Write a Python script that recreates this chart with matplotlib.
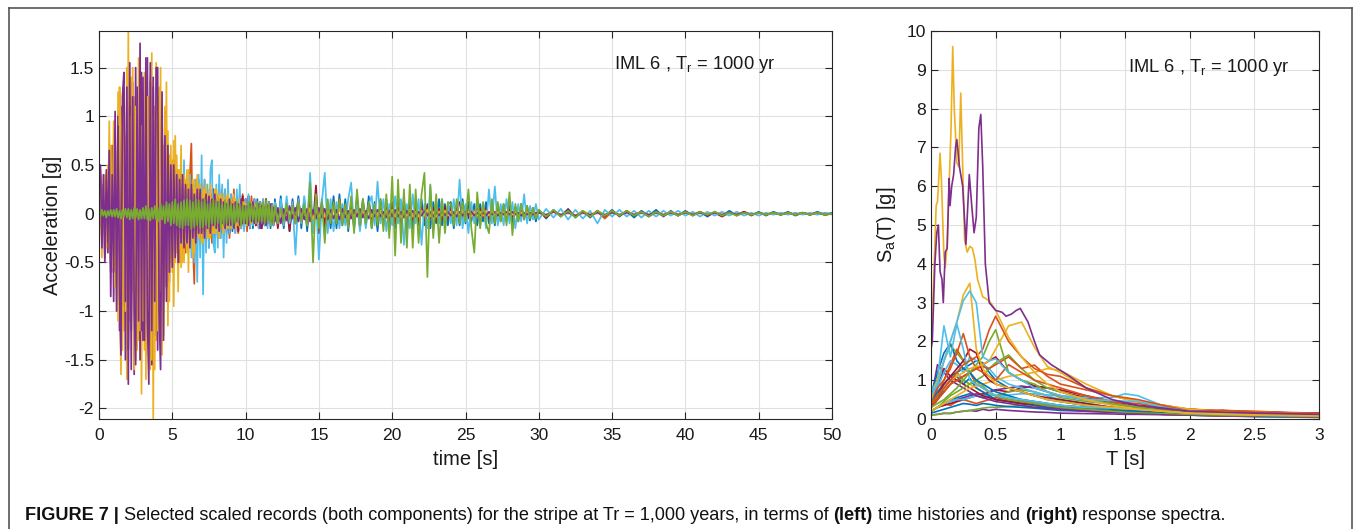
import numpy as np
import matplotlib
matplotlib.use("Agg")
import matplotlib.pyplot as plt
from matplotlib import font_manager as fm
from matplotlib.lines import Line2D

# ---------------- data: time histories (acceleration in g) ----------------
# time grid: 0-12 s every 0.1 s, 12-30 s every 0.2 s, 30-50 s every 0.5 s
t_seg_a = np.arange(120) * 0.1
t_seg_b = 12 + np.arange(90) * 0.2
t_seg_c = 30 + np.arange(41) * 0.5
time = np.concatenate([t_seg_a, t_seg_b, t_seg_c])

acc_yellow = [
    0.02, 0.45, -0.30, 0.20, -0.25, 0.35, -0.40, 0.95, -0.50, 0.30,
    -0.60, 0.85, -0.90, 1.25, -0.70, -1.65, 1.05, -1.20, 0.80, -1.70,
    1.88, -1.10, 1.40, -0.80, 1.20, -1.50, 0.90, -1.30, 1.10, -1.85,
    1.00, -1.40, 1.30, -0.90, 1.20, -1.60, 1.65, -2.10, 1.10, -1.30,
    0.90, -1.00, 1.50, -1.45, 0.70, -0.60, 1.35, -1.15, 0.60, -0.50,
    0.55, -0.95, 0.80, -0.40, 0.45, -0.35, 0.70, -0.50, 0.40, -0.30,
    0.45, -0.60, 0.30, -0.25, 0.35, -0.40, 0.25, -0.20, 0.30, -0.25,
    0.20, -0.30, 0.25, -0.15, 0.20, -0.25, 0.30, -0.20, 0.15, -0.20,
    0.25, -0.15, 0.20, -0.10, 0.15, -0.20, 0.10, -0.15, 0.20, -0.10,
    0.15, -0.10, 0.20, -0.15, 0.10, -0.12, 0.15, -0.10, 0.12, -0.08,
    0.10, -0.12, 0.08, -0.10, 0.12, -0.06, 0.10, -0.08, 0.06, -0.10,
    0.08, -0.06, 0.10, -0.08, 0.05, -0.07, 0.09, -0.05, 0.06, -0.08,
    0.06, -0.08, 0.05, -0.06, 0.07, -0.05, 0.04, -0.06, 0.05, -0.04,
    0.05, -0.04, 0.06, -0.05, 0.03, -0.04, 0.05, -0.03, 0.04, -0.05,
    0.04, -0.03, 0.05, -0.04, 0.03, -0.05, 0.04, -0.03, 0.02, -0.04,
    0.03, -0.04, 0.05, -0.03, 0.04, -0.02, 0.03, -0.04, 0.03, -0.02,
    0.04, -0.03, 0.02, -0.04, 0.03, -0.02, 0.04, -0.03, 0.02, -0.03,
    0.03, -0.02, 0.04, -0.03, 0.02, -0.03, 0.02, -0.02, 0.03, -0.02,
    0.02, -0.03, 0.02, -0.02, 0.03, -0.02, 0.02, -0.03, 0.02, -0.02,
    0.02, -0.02, 0.03, -0.02, 0.02, -0.02, 0.02, -0.01, 0.02, -0.02,
    0.02, -0.01, 0.02, -0.02, 0.01, -0.02, 0.02, -0.01, 0.01, -0.02,
    0.01, -0.02, 0.02, -0.01, 0.02, -0.02, 0.03, -0.01, 0.02, -0.01,
    0.01, -0.01, 0.02, -0.01, 0.01, -0.01, 0.01, -0.01, 0.02, -0.01,
    0.01, -0.01, 0.01, -0.01, 0.01, -0.01, 0.01, -0.01, 0.01, -0.01,
    0.01, -0.01, 0.01, -0.01, 0.01, -0.01, 0.01, -0.01, 0.01, -0.01, 0.00]

# second component of the strongest records (0-12 s only, 0.1 s step)
acc_yellow_b = [
    -0.25, 0.30, -0.45, 0.25, 0.40, -0.35, 0.50, -0.30, 0.70, -0.55,
    0.95, -0.75, 0.60, -1.10, 1.30, 0.90, -1.40, 1.20, -1.00, 1.50,
    -1.30, 1.00, -0.90, 1.50, -1.60, 1.10, -1.40, 1.60, -1.20, 0.90,
    -1.10, 1.45, -1.70, 1.20, -1.00, 1.40, -1.50, 1.00, -1.60, 1.55,
    -1.20, 1.30, -0.80, 0.95, -1.25, 1.10, -0.70, 0.85, -0.90, 0.70,
    -0.60, 0.75, -0.50, 0.60, -0.80, 0.45, -0.55, 0.40, -0.50, 0.35,
    -0.40, 0.45, -0.35, 0.30, -0.45, 0.35, -0.30, 0.40, -0.25, 0.30,
    -0.30, 0.25, -0.20, 0.30, -0.25, 0.20, -0.25, 0.15, -0.20, 0.25,
    -0.20, 0.15, -0.25, 0.20, -0.15, 0.20, -0.12, 0.18, -0.15, 0.12,
    -0.15, 0.12, -0.10, 0.15, -0.12, 0.10, -0.14, 0.10, -0.08, 0.12,
    -0.10, 0.08, -0.12, 0.06, -0.10, 0.08, -0.05, 0.08, -0.06, 0.05,
    -0.06, 0.05, -0.08, 0.04, -0.05, 0.06, -0.04, 0.05, -0.03, 0.02]

acc_purple = [
    0.30, 0.50, -0.35, 0.40, -0.45, 0.45, -0.30, 0.65, -0.85, 0.40,
    -0.60, 1.05, -1.00, 0.90, -0.80, -1.45, 1.20, 1.45, -0.90, 1.30,
    -1.75, 1.10, -1.60, 1.20, -1.00, -1.55, 1.30, -1.10, 1.75, -1.20,
    1.40, -1.30, 1.60, -1.10, -1.75, 1.55, -1.20, 1.30, -0.90, 1.50,
    1.50, -1.00, -1.60, 1.00, -1.30, 0.80, -0.90, 0.70, -0.60, 0.50,
    -0.55, 0.50, -0.45, 0.40, -0.50, 0.35, -0.30, 0.40, -0.35, 0.30,
    -0.30, 0.25, -0.35, 0.30, -0.25, 0.20, -0.30, 0.25, -0.20, 0.25,
    -0.20, 0.15, -0.25, 0.20, -0.15, 0.18, -0.20, 0.15, -0.12, 0.20,
    -0.15, 0.12, -0.18, 0.15, -0.10, 0.12, -0.15, 0.10, -0.12, 0.15,
    -0.12, 0.10, -0.15, 0.12, -0.08, 0.10, -0.12, 0.15, -0.10, 0.08,
    -0.10, 0.08, -0.12, 0.10, -0.08, 0.12, -0.10, 0.06, -0.08, 0.10,
    -0.15, 0.08, -0.10, 0.06, -0.12, 0.08, -0.06, 0.10, -0.08, 0.06,
    -0.08, 0.06, -0.10, 0.05, -0.07, 0.08, -0.05, 0.06, -0.08, 0.05,
    -0.06, 0.05, -0.08, 0.04, -0.05, 0.06, -0.04, 0.05, -0.06, 0.04,
    -0.05, 0.04, -0.06, 0.05, -0.04, 0.03, -0.05, 0.04, -0.03, 0.05,
    -0.04, 0.03, -0.05, 0.04, -0.03, 0.04, -0.03, 0.02, -0.04, 0.03,
    -0.03, 0.04, -0.03, 0.02, -0.04, 0.03, -0.02, 0.03, -0.03, 0.02,
    -0.02, 0.03, -0.02, 0.02, -0.03, 0.02, -0.02, 0.03, -0.02, 0.02,
    -0.02, 0.02, -0.03, 0.02, -0.02, 0.02, -0.01, 0.02, -0.02, 0.01,
    -0.02, 0.01, -0.02, 0.02, -0.01, 0.02, -0.02, 0.01, -0.01, 0.02,
    -0.01, 0.02, -0.01, 0.01, -0.02, 0.01, -0.01, 0.01, -0.01, 0.01,
    0.01, -0.01, 0.02, -0.01, 0.01, -0.02, 0.01, -0.01, 0.01, -0.01,
    0.01, -0.01, 0.01, -0.01, 0.01, -0.01, 0.01, -0.01, 0.01, -0.01,
    0.01, -0.01, 0.01, -0.01, 0.01, -0.01, 0.01, -0.01, 0.01, -0.01,
    0.01, -0.01, 0.01, -0.01, 0.01, -0.01, 0.01, -0.01, 0.01, -0.01, 0.00]

acc_purple_b = [
    -0.35, 0.40, -0.20, 0.30, -0.50, 0.35, -0.40, 0.50, -0.60, 0.70,
    -0.90, 0.80, -0.70, 1.00, -1.20, 1.10, -0.95, 1.30, -1.50, 1.15,
    -1.40, 1.55, -1.20, 1.35, -1.65, 1.50, -1.35, 1.20, -1.50, 1.45,
    -1.30, 1.25, -1.45, 1.60, -1.20, 1.35, -1.55, 1.40, -1.25, 1.10,
    -1.40, 1.20, -1.00, 1.25, -0.90, 1.05, -0.75, 0.60, -0.70, 0.45,
    -0.40, 0.55, -0.35, 0.45, -0.30, 0.40, -0.45, 0.30, -0.35, 0.25,
    -0.35, 0.30, -0.20, 0.25, -0.30, 0.20, -0.25, 0.30, -0.20, 0.15,
    -0.25, 0.20, -0.15, 0.22, -0.18, 0.15, -0.20, 0.12, -0.15, 0.18,
    -0.12, 0.15, -0.18, 0.10, -0.15, 0.12, -0.10, 0.14, -0.12, 0.10,
    -0.10, 0.12, -0.08, 0.10, -0.12, 0.08, -0.10, 0.06, -0.08, 0.10,
    -0.08, 0.06, -0.10, 0.08, -0.06, 0.05, -0.08, 0.06, -0.05, 0.07,
    -0.06, 0.04, -0.05, 0.06, -0.04, 0.05, -0.03, 0.04, -0.03, 0.02]

acc_orange = [
    0.05, -0.08, 0.10, -0.06, 0.08, -0.10, 0.12, -0.08, 0.10, -0.12,
    0.15, -0.12, 0.18, -0.15, 0.12, -0.20, 0.22, -0.18, 0.15, -0.20,
    0.25, -0.20, 0.30, -0.25, 0.20, -0.30, 0.28, -0.22, 0.35, -0.25,
    0.30, -0.35, 0.40, -0.30, 0.25, -0.40, 0.35, -0.30, 0.45, -0.35,
    0.40, -0.45, 0.35, -0.50, 0.45, -0.40, 0.50, -0.35, 0.40, -0.45,
    0.35, -0.40, 0.45, -0.30, 0.40, -0.50, 0.35, -0.45, 0.30, -0.40,
    0.30, -0.35, 0.40, 0.72, -0.30, -0.72, 0.35, -0.30, 0.35, -0.25,
    0.30, -0.25, 0.35, -0.30, 0.25, -0.35, 0.20, -0.30, 0.25, -0.20,
    0.25, -0.20, 0.30, -0.25, 0.20, -0.15, 0.25, -0.20, 0.15, -0.25,
    0.20, -0.15, 0.25, -0.20, 0.15, -0.20, 0.18, -0.15, 0.20, -0.12,
    0.15, -0.18, 0.12, -0.15, 0.18, -0.10, 0.15, -0.12, 0.10, -0.15,
    0.12, -0.10, 0.15, -0.12, 0.08, -0.10, 0.12, -0.08, 0.10, -0.12,
    0.10, -0.08, 0.12, -0.10, 0.08, -0.12, 0.10, -0.06, 0.08, -0.10,
    0.08, -0.10, 0.06, -0.08, 0.10, -0.06, 0.08, -0.07, 0.06, -0.08,
    0.07, -0.06, 0.08, -0.05, 0.06, -0.07, 0.05, -0.06, 0.07, -0.05,
    0.06, -0.05, 0.07, -0.06, 0.05, -0.04, 0.06, -0.05, 0.04, -0.06,
    0.05, -0.04, 0.06, -0.05, 0.04, -0.05, 0.03, -0.04, 0.05, -0.04,
    0.04, -0.05, 0.03, -0.04, 0.05, -0.03, 0.04, -0.03, 0.04, -0.05,
    0.04, -0.03, 0.05, -0.04, 0.03, -0.04, 0.03, -0.03, 0.04, -0.03,
    0.03, -0.04, 0.03, -0.02, 0.04, -0.03, 0.02, -0.03, 0.03, -0.02,
    0.03, -0.02, 0.03, -0.03, 0.02, -0.03, 0.02, -0.02, 0.03, -0.02,
    0.02, -0.03, 0.02, -0.02, 0.03, -0.02, 0.02, -0.03, 0.02, -0.05,
    0.02, -0.02, 0.02, -0.01, 0.02, -0.02, 0.01, -0.02, 0.01, -0.01,
    0.02, -0.01, 0.01, -0.01, 0.01, -0.02, 0.01, -0.01, 0.01, -0.01,
    0.01, -0.01, 0.01, -0.01, 0.01, -0.01, 0.01, -0.01, 0.01, -0.01, 0.00]

acc_darkred = [
    0.05, -0.05, 0.08, -0.06, 0.05, -0.08, 0.10, -0.06, 0.08, -0.10,
    0.12, -0.10, 0.15, -0.12, 0.20, -0.25, 0.15, -0.30, 0.20, -0.15,
    0.25, -0.30, 0.45, -0.35, 0.30, -0.40, 0.25, -0.45, 0.30, -0.25,
    0.35, -0.30, 0.25, -0.35, 0.40, -0.25, 0.30, -0.35, 0.25, -0.30,
    0.30, -0.25, 0.35, -0.30, 0.20, -0.35, 0.30, -0.25, 0.35, -0.20,
    0.30, -0.25, 0.20, -0.30, 0.25, -0.20, 0.30, -0.25, 0.35, -0.20,
    0.25, -0.30, 0.20, -0.25, 0.30, -0.20, 0.25, -0.15, 0.20, -0.25,
    0.20, -0.15, 0.25, -0.20, 0.15, -0.25, 0.20, -0.15, 0.25, -0.20,
    0.20, -0.25, 0.15, -0.20, 0.25, -0.15, 0.20, -0.18, 0.15, -0.20,
    0.18, -0.15, 0.20, -0.12, 0.15, -0.18, 0.12, -0.15, 0.18, -0.12,
    0.15, -0.12, 0.18, -0.15, 0.12, -0.10, 0.15, -0.12, 0.10, -0.15,
    0.12, -0.15, 0.10, -0.12, 0.15, -0.10, 0.12, -0.08, 0.10, -0.12,
    0.12, -0.15, 0.10, -0.12, 0.08, -0.18, 0.12, -0.10, 0.15, -0.08,
    0.10, -0.12, 0.15, -0.10, 0.29, -0.20, 0.10, -0.12, 0.08, -0.10,
    0.12, -0.10, 0.15, -0.08, 0.10, -0.12, 0.08, -0.10, 0.12, -0.15,
    0.10, -0.08, 0.12, -0.10, 0.08, -0.12, 0.10, -0.08, 0.06, -0.10,
    0.08, -0.10, 0.06, -0.08, 0.10, -0.06, 0.08, -0.07, 0.06, -0.08,
    0.07, -0.06, 0.08, -0.05, 0.06, -0.08, 0.05, -0.06, 0.07, -0.05,
    0.06, -0.05, 0.07, 0.12, -0.06, 0.08, -0.05, 0.06, -0.04, 0.05,
    0.05, -0.04, 0.06, -0.05, 0.04, -0.06, 0.05, -0.04, 0.03, -0.05,
    0.04, -0.03, 0.05, -0.04, 0.03, -0.04, 0.03, -0.03, 0.04, -0.03,
    0.03, -0.04, 0.03, -0.02, 0.04, -0.03, 0.02, -0.03, 0.03, -0.02,
    0.03, -0.02, 0.03, -0.02, 0.02, -0.03, 0.02, -0.02, 0.02, -0.02,
    0.02, -0.01, 0.02, -0.02, 0.01, -0.03, 0.01, -0.01, 0.02, -0.01,
    0.01, -0.01, 0.01, -0.01, 0.01, -0.01, 0.01, -0.01, 0.01, -0.01, 0.00]

acc_blue = [
    0.10, -0.12, 0.15, -0.10, 0.12, -0.15, 0.10, -0.12, 0.15, -0.10,
    0.15, -0.20, 0.18, -0.15, 0.22, -0.18, 0.25, -0.20, 0.30, -0.22,
    0.25, -0.30, 0.35, -0.25, 0.30, -0.35, 0.40, -0.30, 0.45, -0.35,
    0.40, -0.35, 0.50, -0.40, 0.35, -0.45, 0.40, -0.35, 0.30, -0.40,
    0.45, -0.35, 0.40, -0.30, 0.35, -0.40, 0.30, -0.35, 0.40, -0.30,
    0.35, -0.30, 0.25, -0.35, 0.30, -0.25, 0.35, -0.30, 0.25, -0.30,
    0.30, -0.25, 0.35, -0.20, 0.25, -0.30, 0.20, -0.25, 0.30, -0.20,
    0.25, -0.20, 0.20, -0.25, 0.15, -0.20, 0.25, -0.15, 0.20, -0.25,
    0.20, -0.15, 0.25, -0.20, 0.15, -0.18, 0.20, -0.15, 0.18, -0.20,
    0.15, -0.18, 0.20, -0.15, 0.12, -0.18, 0.15, -0.12, 0.18, -0.15,
    0.15, -0.12, 0.18, -0.15, 0.12, -0.15, 0.10, -0.12, 0.15, -0.10,
    0.12, -0.15, 0.10, -0.12, 0.15, -0.10, 0.12, -0.15, 0.10, -0.12,
    0.15, -0.12, 0.18, -0.15, 0.12, -0.18, 0.15, -0.10, 0.18, -0.15,
    0.15, -0.18, 0.20, -0.15, 0.18, -0.20, 0.15, -0.18, 0.12, -0.15,
    0.18, -0.15, 0.20, -0.12, 0.15, -0.18, 0.12, -0.15, 0.18, -0.12,
    0.15, -0.12, 0.18, -0.15, 0.12, -0.18, 0.15, -0.12, 0.15, -0.18,
    0.12, -0.15, 0.18, -0.12, 0.15, -0.18, 0.12, -0.15, 0.10, -0.12,
    0.15, -0.12, 0.10, -0.15, 0.12, -0.10, 0.15, -0.12, 0.10, -0.12,
    0.12, -0.15, 0.10, -0.12, 0.15, -0.10, 0.12, -0.08, 0.10, -0.12,
    0.10, -0.08, 0.12, -0.10, 0.08, -0.12, 0.10, -0.08, 0.10, -0.07,
    0.08, -0.10, 0.07, -0.08, 0.10, -0.06, 0.08, -0.07, 0.06, -0.08,
    0.04, -0.05, 0.04, -0.03, 0.05, -0.04, 0.03, -0.04, 0.03, -0.03,
    0.04, -0.03, 0.03, -0.04, 0.03, -0.02, 0.04, -0.03, 0.03, -0.02,
    0.03, -0.02, 0.02, -0.03, 0.02, -0.02, 0.03, -0.02, 0.02, -0.02,
    0.02, -0.02, 0.02, -0.01, 0.02, -0.02, 0.01, -0.01, 0.02, -0.01, 0.01]

acc_lightblue = [
    0.10, -0.08, 0.12, -0.10, 0.08, -0.12, 0.10, -0.08, 0.12, -0.10,
    0.15, -0.12, 0.20, -0.15, 0.18, -0.20, 0.25, -0.18, 0.20, -0.25,
    0.30, -0.25, 0.35, -0.30, 0.25, -0.35, 0.30, -0.40, 0.45, -0.30,
    0.35, -0.45, 0.40, -0.35, 0.30, -0.40, 0.35, -0.50, 0.40, -0.30,
    0.45, -0.35, 0.30, -0.40, 0.50, -0.35, 0.40, -0.30, 0.35, -0.45,
    0.30, -0.35, 0.40, -0.30, 0.35, -0.25, 0.40, -0.35, 0.55, -0.30,
    0.35, -0.40, 0.40, -0.45, 0.30, -0.50, 0.35, -0.70, 0.40, -0.45,
    0.60, -0.83, 0.35, -0.40, 0.30, -0.35, 0.45, 0.55, -0.30, -0.40,
    0.30, -0.35, 0.40, -0.25, 0.30, -0.45, 0.25, -0.30, 0.35, -0.20,
    0.20, -0.15, 0.12, -0.20, 0.25, -0.12, 0.30, -0.15, 0.10, -0.18,
    0.15, -0.12, 0.20, -0.15, 0.10, -0.12, 0.15, -0.10, 0.12, -0.15,
    0.12, -0.10, 0.15, -0.12, 0.10, -0.15, 0.12, -0.10, 0.10, -0.12,
    0.12, -0.10, 0.15, -0.12, 0.18, -0.10, 0.12, -0.42, 0.15, -0.10,
    0.18, -0.12, 0.42, -0.20, 0.15, -0.47, 0.12, 0.42, -0.20, 0.15,
    -0.18, 0.12, -0.15, 0.10, -0.12, 0.15, 0.32, -0.15, 0.10, -0.18,
    0.12, -0.15, 0.10, 0.18, -0.12, 0.33, -0.10, 0.15, -0.18, 0.10,
    -0.12, 0.18, -0.10, 0.15, -0.32, 0.10, -0.15, 0.20, -0.10, 0.15,
    -0.32, 0.10, -0.15, 0.28, -0.18, 0.12, -0.10, 0.15, -0.12, 0.10,
    -0.10, 0.15, -0.12, 0.35, -0.15, 0.10, -0.20, 0.12, -0.10, 0.15,
    -0.12, 0.10, -0.15, 0.25, -0.10, 0.28, -0.12, 0.10, -0.12, 0.15,
    -0.10, 0.12, -0.15, 0.10, -0.08, 0.20, -0.10, 0.08, -0.06, 0.10,
    -0.06, 0.05, -0.04, 0.05, -0.06, 0.04, -0.05, 0.03, -0.10, 0.04,
    -0.03, 0.04, -0.03, 0.03, -0.04, 0.03, -0.03, 0.03, -0.02, 0.03,
    -0.02, 0.02, -0.03, 0.02, -0.02, 0.02, -0.02, 0.02, -0.02, 0.01,
    -0.02, 0.01, -0.01, 0.01, -0.01, 0.01, -0.01, 0.01, -0.01, 0.01, 0.00]

acc_green = [
    0.02, -0.03, 0.04, -0.02, 0.03, -0.04, 0.03, -0.02, 0.04, -0.03,
    0.04, -0.03, 0.05, -0.04, 0.03, -0.05, 0.04, -0.03, 0.05, -0.04,
    0.05, -0.06, 0.04, -0.05, 0.06, -0.04, 0.05, -0.06, 0.04, -0.05,
    0.06, -0.05, 0.08, -0.06, 0.05, -0.07, 0.06, -0.05, 0.08, -0.06,
    0.06, -0.08, 0.10, -0.06, 0.08, -0.10, 0.12, -0.08, 0.10, -0.12,
    0.12, -0.10, 0.15, -0.12, 0.10, -0.14, 0.12, -0.15, 0.14, -0.12,
    0.15, -0.12, 0.14, -0.16, 0.12, -0.14, 0.15, -0.12, 0.14, -0.15,
    0.12, -0.14, 0.15, -0.12, 0.10, -0.14, 0.12, -0.10, 0.14, -0.12,
    0.14, -0.10, 0.12, -0.14, 0.10, -0.12, 0.14, -0.10, 0.12, -0.08,
    0.10, -0.12, 0.08, -0.10, 0.12, -0.08, 0.10, -0.12, 0.08, -0.10,
    0.08, -0.10, 0.12, -0.08, 0.10, -0.06, 0.08, -0.10, 0.12, -0.08,
    0.10, -0.08, 0.12, -0.10, 0.14, -0.08, 0.10, -0.12, 0.08, -0.10,
    0.08, -0.10, 0.06, -0.08, 0.10, -0.06, 0.08, -0.10, 0.12, -0.08,
    0.10, -0.12, 0.32, -0.50, 0.20, -0.15, 0.12, -0.30, 0.15, -0.10,
    0.12, -0.10, 0.15, -0.12, 0.10, -0.15, 0.18, -0.20, 0.25, -0.12,
    0.15, -0.10, 0.12, -0.15, 0.10, -0.12, 0.15, -0.18, 0.20, -0.25,
    0.38, -0.43, 0.35, -0.30, 0.25, -0.35, 0.30, -0.35, 0.25, -0.30,
    0.20, 0.42, -0.65, 0.30, -0.25, 0.20, -0.30, 0.15, -0.20, 0.12,
    0.10, -0.12, 0.15, -0.10, 0.12, -0.08, 0.25, -0.15, -0.40, 0.22,
    -0.15, 0.12, -0.10, -0.20, 0.15, -0.10, 0.12, -0.08, 0.10, -0.12,
    0.22, -0.22, 0.10, -0.08, 0.10, -0.06, 0.08, -0.05, 0.06, -0.05,
    0.04, -0.03, 0.04, -0.03, 0.03, -0.04, 0.03, -0.03, 0.03, -0.02,
    0.03, -0.02, 0.03, -0.02, 0.02, -0.03, 0.02, -0.02, 0.02, -0.02,
    0.02, -0.02, 0.02, -0.01, 0.02, -0.02, 0.01, -0.02, 0.01, -0.01,
    0.01, -0.01, 0.01, -0.01, 0.01, -0.01, 0.01, -0.01, 0.01, -0.01, 0.00]

# ---------------- data: response spectra (Sa in g) ----------------
period_grid = [0, 0.05, 0.1, 0.15, 0.2, 0.25, 0.3, 0.35, 0.4, 0.45, 0.5, 0.6, 0.7,
               0.8, 0.9, 1.0, 1.2, 1.4, 1.5, 1.6, 1.8, 2.0, 2.25, 2.5, 2.75, 3.0]

sa_blue_1 = [0.6, 1.2, 1.7, 1.95, 1.5, 1.3, 1.2, 1.0, 0.9, 0.8, 0.7, 0.6, 0.5, 0.45, 0.4, 0.35, 0.3, 0.25, 0.22, 0.2, 0.18, 0.15, 0.12, 0.1, 0.09, 0.08]
sa_blue_2 = [0.4, 0.7, 0.9, 1.1, 1.2, 1.3, 1.4, 1.5, 1.45, 1.2, 1.0, 0.8, 0.7, 0.6, 0.5, 0.45, 0.35, 0.3, 0.27, 0.25, 0.2, 0.15, 0.12, 0.1, 0.08, 0.07]
sa_blue_3 = [0.3, 0.5, 0.8, 1.0, 1.1, 0.9, 1.05, 0.8, 0.7, 0.6, 0.5, 0.45, 0.4, 0.35, 0.3, 0.28, 0.22, 0.18, 0.16, 0.15, 0.12, 0.1, 0.08, 0.07, 0.06, 0.05]
sa_blue_4 = [0.2, 0.3, 0.4, 0.5, 0.55, 0.6, 0.65, 0.6, 0.55, 0.6, 0.5, 0.45, 0.4, 0.35, 0.3, 0.3, 0.25, 0.2, 0.19, 0.18, 0.15, 0.1, 0.08, 0.06, 0.05, 0.04]
sa_blue_5 = [0.15, 0.2, 0.25, 0.3, 0.35, 0.4, 0.38, 0.35, 0.4, 0.38, 0.35, 0.32, 0.3, 0.28, 0.25, 0.22, 0.2, 0.18, 0.17, 0.16, 0.14, 0.12, 0.1, 0.09, 0.08, 0.07]
sa_orange_1 = [0.4, 0.6, 0.8, 1.0, 1.2, 1.4, 1.5, 1.6, 1.8, 2.3, 2.65, 2.0, 1.6, 1.3, 1.15, 1.1, 0.8, 0.6, 0.55, 0.5, 0.35, 0.2, 0.22, 0.18, 0.15, 0.12]
sa_orange_2 = [0.5, 0.8, 1.0, 1.3, 1.7, 2.2, 1.6, 1.3, 1.2, 1.1, 1.0, 1.4, 1.2, 1.0, 0.9, 0.8, 0.6, 0.45, 0.42, 0.4, 0.3, 0.25, 0.22, 0.2, 0.17, 0.15]
sa_orange_3 = [0.3, 0.5, 0.7, 0.9, 1.0, 1.1, 1.2, 1.3, 1.35, 1.3, 1.4, 1.6, 1.3, 1.39, 1.1, 0.9, 0.75, 0.6, 0.52, 0.45, 0.35, 0.25, 0.2, 0.18, 0.15, 0.12]
sa_orange_4 = [0.3, 0.6, 1.0, 1.4, 1.8, 1.5, 1.2, 0.9, 0.8, 0.7, 0.6, 0.5, 0.45, 0.4, 0.35, 0.3, 0.25, 0.2, 0.17, 0.15, 0.12, 0.1, 0.08, 0.07, 0.06, 0.05]
sa_orange_5 = [0.2, 0.3, 0.4, 0.35, 0.45, 0.5, 0.45, 0.4, 0.45, 0.5, 0.55, 0.5, 0.45, 0.4, 0.35, 0.3, 0.25, 0.22, 0.21, 0.2, 0.18, 0.15, 0.15, 0.14, 0.13, 0.12]
sa_yellow_2 = [0.4, 0.6, 0.8, 1.0, 1.1, 1.2, 1.3, 1.35, 1.4, 1.5, 1.8, 2.4, 2.5, 1.85, 1.35, 1.2, 0.8, 0.6, 0.52, 0.45, 0.35, 0.25, 0.2, 0.18, 0.15, 0.12]
sa_yellow_3 = [0.5, 1.0, 1.5, 2.0, 2.5, 3.2, 3.5, 1.8, 1.3, 1.1, 0.9, 0.8, 0.7, 0.6, 0.5, 0.45, 0.35, 0.3, 0.27, 0.25, 0.2, 0.15, 0.12, 0.1, 0.09, 0.08]
sa_yellow_4 = [0.3, 0.5, 0.7, 0.9, 1.2, 1.0, 0.9, 0.8, 0.7, 0.65, 0.6, 0.55, 0.5, 0.45, 0.4, 0.35, 0.3, 0.25, 0.22, 0.2, 0.18, 0.15, 0.12, 0.1, 0.09, 0.08]
sa_yellow_5 = [0.2, 0.3, 0.4, 0.5, 0.6, 0.7, 0.8, 0.85, 0.9, 0.95, 1.0, 1.1, 1.15, 1.2, 1.3, 1.25, 0.9, 0.6, 0.52, 0.45, 0.35, 0.25, 0.2, 0.17, 0.15, 0.13]
sa_purple_2 = [0.5, 1.4, 1.2, 1.0, 0.9, 0.8, 0.7, 0.6, 0.55, 0.5, 0.45, 0.4, 0.35, 0.3, 0.28, 0.25, 0.2, 0.17, 0.16, 0.15, 0.12, 0.1, 0.09, 0.08, 0.07, 0.06]
sa_purple_3 = [0.2, 0.3, 0.4, 0.45, 0.5, 0.55, 0.6, 0.65, 0.6, 0.7, 0.75, 0.8, 0.85, 0.8, 0.7, 0.6, 0.5, 0.4, 0.35, 0.3, 0.25, 0.2, 0.18, 0.17, 0.16, 0.15]
sa_purple_4 = [0.1, 0.12, 0.15, 0.14, 0.18, 0.2, 0.22, 0.2, 0.25, 0.22, 0.25, 0.22, 0.2, 0.18, 0.17, 0.15, 0.14, 0.13, 0.12, 0.12, 0.11, 0.1, 0.1, 0.1, 0.09, 0.09]
sa_green_1 = [0.3, 0.4, 0.5, 0.65, 0.8, 1.0, 1.2, 1.4, 1.6, 2.0, 2.3, 1.2, 1.0, 0.9, 0.7, 0.55, 0.45, 0.38, 0.34, 0.3, 0.2, 0.15, 0.12, 0.1, 0.09, 0.08]
sa_green_2 = [0.4, 0.9, 1.5, 1.9, 1.7, 1.5, 1.2, 1.0, 0.85, 0.7, 0.6, 0.5, 0.45, 0.4, 0.35, 0.3, 0.25, 0.2, 0.18, 0.17, 0.15, 0.12, 0.1, 0.09, 0.08, 0.07]
sa_green_3 = [0.2, 0.3, 0.45, 0.6, 0.7, 0.8, 0.9, 1.0, 1.1, 1.3, 1.45, 1.65, 1.3, 1.0, 0.8, 0.7, 0.5, 0.4, 0.35, 0.3, 0.22, 0.18, 0.15, 0.12, 0.1, 0.09]
sa_green_4 = [0.1, 0.12, 0.14, 0.15, 0.18, 0.2, 0.22, 0.25, 0.28, 0.3, 0.3, 0.32, 0.35, 0.3, 0.28, 0.25, 0.22, 0.2, 0.19, 0.18, 0.15, 0.12, 0.1, 0.09, 0.08, 0.07]
sa_green_5 = [0.3, 0.5, 0.8, 1.0, 1.2, 1.0, 0.9, 1.0, 0.8, 0.7, 0.6, 0.7, 0.75, 0.7, 0.6, 0.45, 0.35, 0.3, 0.27, 0.25, 0.2, 0.15, 0.12, 0.1, 0.09, 0.08]
sa_lightblue_1 = [0.6, 0.9, 1.5, 2.0, 2.5, 3.05, 3.3, 3.0, 1.6, 1.5, 1.55, 1.2, 1.0, 0.8, 0.7, 0.6, 0.5, 0.48, 0.46, 0.45, 0.3, 0.2, 0.15, 0.12, 0.11, 0.1]
sa_lightblue_2 = [0.7, 1.0, 2.4, 1.6, 2.45, 1.8, 1.0, 0.9, 0.8, 0.7, 0.6, 0.55, 0.5, 0.45, 0.4, 0.35, 0.3, 0.28, 0.26, 0.25, 0.2, 0.15, 0.12, 0.1, 0.09, 0.08]
sa_lightblue_3 = [0.2, 0.3, 0.4, 0.45, 0.5, 0.5, 0.55, 0.6, 0.6, 0.62, 0.6, 0.62, 0.65, 0.65, 0.62, 0.6, 0.55, 0.55, 0.65, 0.6, 0.33, 0.2, 0.14, 0.12, 0.11, 0.1]
sa_lightblue_4 = [0.5, 0.8, 1.2, 1.5, 1.4, 1.2, 1.6, 1.5, 1.4, 1.3, 1.1, 0.9, 0.8, 0.7, 0.6, 0.5, 0.4, 0.3, 0.27, 0.25, 0.2, 0.15, 0.12, 0.1, 0.09, 0.08]
sa_darkred_1 = [0.4, 0.6, 0.9, 1.1, 1.3, 1.5, 1.8, 1.7, 1.2, 1.0, 0.9, 0.8, 0.7, 0.6, 0.55, 0.5, 0.4, 0.3, 0.27, 0.25, 0.2, 0.18, 0.15, 0.13, 0.12, 0.1]
sa_darkred_2 = [0.3, 0.5, 0.7, 0.9, 1.0, 1.1, 1.2, 1.3, 1.4, 1.5, 1.6, 1.2, 1.0, 0.85, 0.8, 0.75, 0.6, 0.45, 0.4, 0.35, 0.3, 0.25, 0.2, 0.18, 0.16, 0.15]
sa_darkred_3 = [0.3, 0.8, 1.3, 1.1, 1.0, 0.9, 0.8, 0.7, 0.6, 0.55, 0.5, 0.45, 0.4, 0.38, 0.35, 0.3, 0.25, 0.2, 0.18, 0.17, 0.16, 0.15, 0.22, 0.18, 0.16, 0.15]
sa_darkred_4 = [0.2, 0.3, 0.35, 0.4, 0.45, 0.5, 0.55, 0.6, 0.65, 0.7, 0.75, 0.7, 0.8, 0.85, 0.8, 0.7, 0.55, 0.4, 0.35, 0.3, 0.25, 0.2, 0.18, 0.16, 0.15, 0.14]

# the two dominant spectra have their own, finer period lists
period_yellow_1 = [0, 0.02, 0.04, 0.05, 0.06, 0.07, 0.08, 0.1, 0.11, 0.125, 0.14, 0.155, 0.168, 0.18, 0.2,
                   0.215, 0.23, 0.245, 0.26, 0.28, 0.3, 0.32, 0.34, 0.36, 0.4, 0.45, 0.5, 0.6, 0.7, 0.8,
                   0.9, 1.0, 1.2, 1.4, 1.6, 2.0, 2.5, 3.0]
sa_yellow_1 = [2.0, 3.5, 5.5, 5.6, 6.2, 6.85, 6.2, 4.2, 3.9, 4.5, 6.0, 7.5, 9.6, 8.0, 6.6,
               6.5, 8.4, 6.5, 4.6, 4.3, 4.45, 4.4, 4.1, 3.6, 3.15, 3.05, 2.8, 2.1, 1.6, 1.2,
               0.9, 0.7, 0.5, 0.35, 0.25, 0.15, 0.12, 0.1]
period_purple_1 = [0, 0.01, 0.03, 0.045, 0.057, 0.07, 0.085, 0.095, 0.11, 0.125, 0.14, 0.147, 0.16, 0.175,
                   0.19, 0.2, 0.22, 0.245, 0.27, 0.296, 0.315, 0.333, 0.35, 0.37, 0.385, 0.4, 0.42, 0.45,
                   0.5, 0.55, 0.58, 0.62, 0.66, 0.69, 0.75, 0.8, 0.84, 0.93, 1.05, 1.2, 1.4, 1.6, 1.8,
                   2.0, 2.5, 3.0]
sa_purple_1 = [1.8, 2.0, 4.0, 4.8, 5.0, 3.8, 3.6, 3.0, 4.3, 4.4, 6.2, 5.5, 6.0, 6.3,
               7.0, 7.2, 6.5, 6.0, 4.5, 6.3, 5.5, 4.8, 5.2, 7.5, 7.85, 6.5, 4.0, 3.0,
               2.8, 2.75, 2.65, 2.7, 2.8, 2.85, 2.5, 2.0, 1.65, 1.4, 1.15, 0.8, 0.5, 0.35, 0.28,
               0.2, 0.15, 0.12]

tick_x_left = [0, 5, 10, 15, 20, 25, 30, 35, 40, 45, 50]
tick_y_left = [-2, -1.5, -1, -0.5, 0, 0.5, 1, 1.5]
tick_y_left_labels = ['-2', '-1.5', '-1', '-0.5', '0', '0.5', '1', '1.5']
tick_x_right = [0, 0.5, 1, 1.5, 2, 2.5, 3]
tick_x_right_labels = ['0', '0.5', '1', '1.5', '2', '2.5', '3']
tick_y_right = list(range(0, 11))

# ---------------- style ----------------
C_BLUE, C_ORANGE, C_YELLOW = '#0072BD', '#D95319', '#EDB120'
C_PURPLE, C_GREEN, C_LBLUE, C_RED = '#7E2F8E', '#77AC30', '#4DBEEE', '#A2142F'


def pick(names):
    for n in names:
        try:
            fm.findfont(fm.FontProperties(family=n), fallback_to_default=False)
            return n
        except Exception:
            pass
    return 'DejaVu Sans'


MAIN = pick(['Liberation Sans', 'Arial', 'DejaVu Sans'])
CAPF = pick(['Liberation Sans Narrow', 'DejaVu Sans Condensed', 'Liberation Sans'])
plt.rcParams['font.family'] = [MAIN, 'DejaVu Sans']
plt.rcParams['axes.unicode_minus'] = False
plt.rcParams['mathtext.fontset'] = 'custom'
plt.rcParams['mathtext.rm'] = MAIN
plt.rcParams['mathtext.it'] = MAIN

W, H = 1355, 529
fig = plt.figure(figsize=(W / 100, H / 100), dpi=100)
fig.patch.set_facecolor('white')

ax1 = fig.add_axes([99 / W, 1 - 419 / H, (832 - 99) / W, (419 - 31) / H])
ax2 = fig.add_axes([931 / W, 1 - 419 / H, (1319 - 931) / W, (419 - 31) / H])

DARK = '#262626'


def style(ax, xpad=6.5, ypad=3.5):
    for s in ax.spines.values():
        s.set_color(DARK)
        s.set_linewidth(0.8)
    ax.tick_params(axis='both', direction='in', top=True, right=True, length=5,
                   width=0.8, colors=DARK, labelsize=12.6, labelcolor='#1a1a1a')
    ax.tick_params(axis='x', pad=xpad)
    ax.tick_params(axis='y', pad=ypad)
    ax.grid(True, color='#E0E0E0', linewidth=0.8)
    ax.set_axisbelow(True)


# ---------------- left: time histories ----------------
LW = 1.25
for tv, vals, col in [(time, acc_blue, C_BLUE), (time, acc_orange, C_ORANGE),
                      (time, acc_darkred, C_RED), (time, acc_lightblue, C_LBLUE),
                      (time, acc_yellow, C_YELLOW), (t_seg_a, acc_purple_b, C_PURPLE),
                      (t_seg_a, acc_yellow_b, C_YELLOW), (time, acc_purple, C_PURPLE),
                      (time, acc_green, C_GREEN)]:
    ax1.plot(tv, vals, color=col, lw=LW)

ax1.set_xlim(0, 50)
ax1.set_ylim(-2.108, 1.876)
ax1.set_xticks(tick_x_left)
ax1.set_yticks(tick_y_left)
ax1.set_yticklabels(tick_y_left_labels)
style(ax1)
ax1.set_xlabel('time [s]', fontsize=14.5, color='#1a1a1a')
ax1.set_ylabel('Acceleration [g]', fontsize=14.5, color='#1a1a1a')
ax1.yaxis.set_label_coords(-0.051, 0.5)
ax1.xaxis.set_label_coords(0.5, -0.08)
ax1.text(35.1, 1.53, 'IML 6 , T$_r$ = 1000 yr', fontsize=13.2, va='center', ha='left', color='#1a1a1a')

# ---------------- right: spectra ----------------
spectra = [
    (sa_purple_4, C_PURPLE), (sa_green_4, C_GREEN), (sa_blue_5, C_BLUE), (sa_orange_5, C_ORANGE),
    (sa_blue_4, C_BLUE), (sa_darkred_4, C_RED), (sa_yellow_4, C_YELLOW), (sa_purple_3, C_PURPLE),
    (sa_lightblue_3, C_LBLUE), (sa_green_5, C_GREEN), (sa_blue_3, C_BLUE), (sa_darkred_3, C_RED),
    (sa_orange_4, C_ORANGE), (sa_purple_2, C_PURPLE), (sa_green_2, C_GREEN), (sa_blue_2, C_BLUE),
    (sa_lightblue_4, C_LBLUE), (sa_darkred_2, C_RED), (sa_green_3, C_GREEN), (sa_orange_3, C_ORANGE),
    (sa_yellow_5, C_YELLOW), (sa_blue_1, C_BLUE), (sa_darkred_1, C_RED), (sa_orange_2, C_ORANGE),
    (sa_lightblue_2, C_LBLUE), (sa_green_1, C_GREEN), (sa_yellow_2, C_YELLOW), (sa_orange_1, C_ORANGE),
    (sa_yellow_3, C_YELLOW), (sa_lightblue_1, C_LBLUE),
]
for vals, col in spectra:
    ax2.plot(period_grid, vals, color=col, lw=1.2)
ax2.plot(period_yellow_1, sa_yellow_1, color=C_YELLOW, lw=1.2)
ax2.plot(period_purple_1, sa_purple_1, color=C_PURPLE, lw=1.2)

ax2.set_xlim(0, 3)
ax2.set_ylim(0, 10)
ax2.set_xticks(tick_x_right)
ax2.set_xticklabels(tick_x_right_labels)
ax2.set_yticks(tick_y_right)
style(ax2)
ax2.set_xlabel('T [s]', fontsize=14.5, color='#1a1a1a')
ax2.set_ylabel('S$_a$(T) [g]', fontsize=14.5, color='#1a1a1a')
ax2.yaxis.set_label_coords(-0.085, 0.5)
ax2.xaxis.set_label_coords(0.5, -0.08)
ax2.text(1.52, 9.06, 'IML 6 , T$_r$ = 1000 yr', fontsize=13.2, va='center', ha='left', color='#1a1a1a')

# ---------------- frame ----------------
fc = '#555555'
fig.add_artist(Line2D([9 / W, 9 / W], [0, 1 - 8 / H], transform=fig.transFigure, color=fc, lw=1.2))
fig.add_artist(Line2D([9 / W, 1352 / W], [1 - 8 / H, 1 - 8 / H], transform=fig.transFigure, color=fc, lw=1.2))
fig.add_artist(Line2D([1352 / W, 1352 / W], [0, 1 - 8 / H], transform=fig.transFigure, color=fc, lw=1.2))

# ---------------- caption ----------------
parts = [('FIGURE 7 |', 'bold'),
         ('Selected scaled records (both components) for the stripe at Tr = 1,000 years, in terms of', 'normal'),
         ('(left)', 'bold'), ('time histories and', 'normal'), ('(right)', 'bold'),
         ('response spectra.', 'normal')]
renderer = fig.canvas.get_renderer()


def layout_caption(size, draw):
    probe1 = fig.text(0, 0, 'i i', fontsize=size, family=CAPF)
    probe2 = fig.text(0, 0, 'ii', fontsize=size, family=CAPF)
    sw = probe1.get_window_extent(renderer).width - probe2.get_window_extent(renderer).width
    probe1.remove()
    probe2.remove()
    x = 25.0
    texts = []
    for txt, wgt in parts:
        tt = fig.text(x / W, 1 - 515 / H, txt, fontsize=size, fontweight=wgt, family=CAPF,
                      va='center', ha='left', color='#111111')
        x += tt.get_window_extent(renderer).width + sw
        texts.append(tt)
    if not draw:
        for tt in texts:
            tt.remove()
    return x - sw - 25.0


trial = 11.5
wid = layout_caption(trial, False)
size = trial * 1212.0 / wid
size = min(size, 13.7)
layout_caption(size, True)

fig.savefig('out.png', dpi=100, facecolor='white')
